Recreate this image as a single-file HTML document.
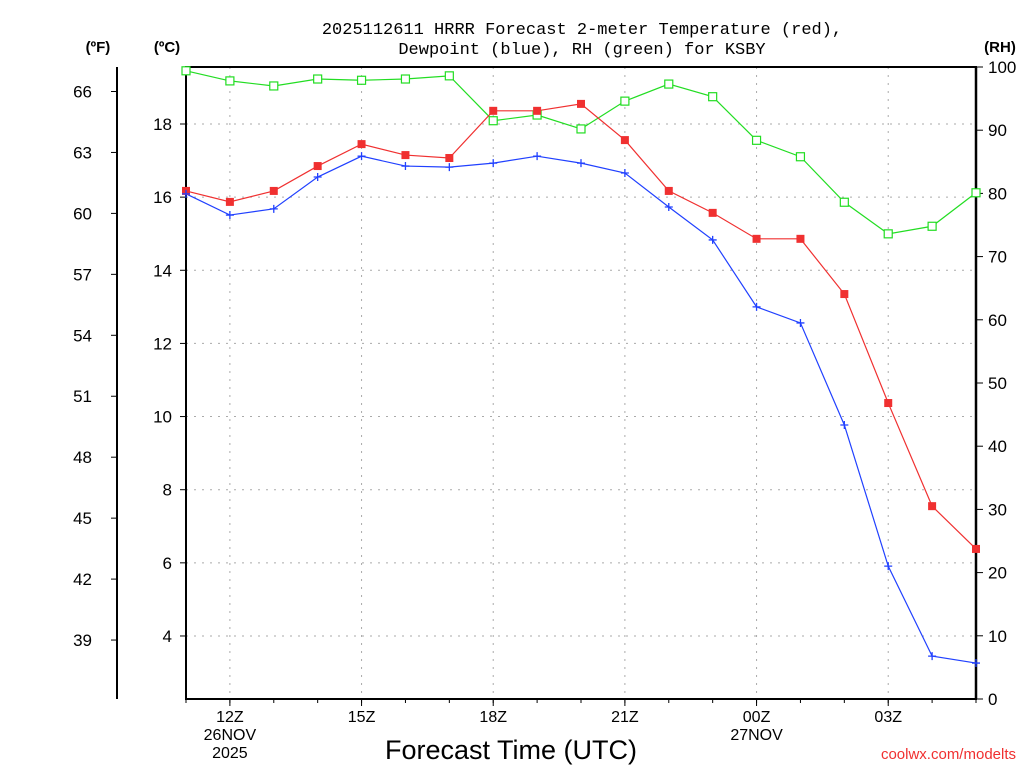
<!DOCTYPE html>
<html><head><meta charset="utf-8"><style>
body{margin:0;background:#fff;}
svg{display:block;font-family:"Liberation Sans",sans-serif;}
</style></head><body>
<svg id="chart" width="1024" height="768">
<g id="grid"></g>
<g id="axes"></g>
<g id="series"></g>
<text x="582" y="34" text-anchor="middle" font-size="17" font-family="Liberation Mono, monospace">2025112611 HRRR Forecast 2-meter Temperature (red),</text>
<text x="582" y="54" text-anchor="middle" font-size="17" font-family="Liberation Mono, monospace">Dewpoint (blue), RH (green) for KSBY</text>
<text x="98" y="52" text-anchor="middle" font-size="15" font-weight="bold">(ºF)</text>
<text x="167" y="52" text-anchor="middle" font-size="15" font-weight="bold">(ºC)</text>
<text x="1000" y="52" text-anchor="middle" font-size="15" font-weight="bold">(RH)</text>
<text x="511" y="759" text-anchor="middle" font-size="27">Forecast Time (UTC)</text>
<text x="1016" y="759" text-anchor="end" font-size="15" fill="#f03030">coolwx.com/modelts</text>
</svg>
<script>
const hours=[11,12,13,14,15,16,17,18,19,20,21,22,23,0,1,2,3,4,5];
const tempC=[16.17,15.87,16.17,16.85,17.45,17.15,17.07,18.36,18.36,18.55,17.56,16.17,15.57,14.86,14.86,13.35,10.37,7.55,6.38];
const dewC=[16.09,15.51,15.68,16.55,17.12,16.85,16.82,16.93,17.12,16.93,16.66,15.73,14.83,13.0,12.56,9.77,5.91,3.45,3.26];
const rh=[99.4,97.8,97.0,98.1,97.9,98.1,98.6,91.5,92.4,90.2,94.6,97.3,95.3,88.4,85.8,78.6,73.6,74.8,80.1];
const cTicks=[4,6,8,10,12,14,16,18];
const fTicks=[39,42,45,48,51,54,57,60,63,66];
const rhTicks=[0,10,20,30,40,50,60,70,80,90,100];
const xLabels=[{i:1,t:["12Z","26NOV","2025"]},{i:4,t:["15Z"]},{i:7,t:["18Z"]},{i:10,t:["21Z"]},{i:13,t:["00Z","27NOV"]},{i:16,t:["03Z"]}];
const L=186,R=976,T=67,B=699;
const xs=i=>L+i*(R-L)/(hours.length-1);
const yC=c=>124+(18-c)*36.57;
const yF=f=>yC((f-32)*5/9);
const yR=r=>B-r*(B-T)/100;
const NS="http://www.w3.org/2000/svg";
function mk(p,tag,a,txt){const e=document.createElementNS(NS,tag);for(const k in a)e.setAttribute(k,a[k]);if(txt!==undefined)e.textContent=txt;p.appendChild(e);return e;}
const grid=document.getElementById('grid'),axes=document.getElementById('axes'),ser=document.getElementById('series');
cTicks.forEach(c=>{const y=yC(c);
 const g=mk(grid,'line',{x1:L,x2:R,y1:y,y2:y,stroke:'#aaa','stroke-dasharray':'2,6'});
 
 mk(axes,'line',{x1:L-6,x2:L,y1:y,y2:y,stroke:'#000'});
 const t=mk(axes,'text',{x:L-14,y:y+6,'text-anchor':'end','font-size':17},c);
 });
xLabels.forEach(o=>{const x=xs(o.i);
 const g=mk(grid,'line',{x1:x,x2:x,y1:T,y2:B,stroke:'#aaa','stroke-dasharray':'2,6'});
 
 mk(axes,'line',{x1:x,x2:x,y1:B,y2:B+7,stroke:'#000'});
 o.t.forEach((s,k)=>{const t=mk(axes,'text',{x:x,y:B+23+k*18,'text-anchor':'middle','font-size':16},s);
 });});
hours.forEach((h,i)=>mk(axes,'line',{x1:xs(i),x2:xs(i),y1:B,y2:B+4,stroke:'#000'}));
fTicks.forEach(f=>{const y=yF(f);
 mk(axes,'line',{x1:117,x2:111,y1:y,y2:y,stroke:'#000'});
 const t=mk(axes,'text',{x:92,y:y+6,'text-anchor':'end','font-size':17},f);
 });
rhTicks.forEach(r=>{const y=yR(r);
 mk(axes,'line',{x1:R,x2:R+7,y1:y,y2:y,stroke:'#000'});
 const t=mk(axes,'text',{x:988,y:y+6,'font-size':17},r);
 });
mk(axes,'rect',{x:L,y:T,width:R-L,height:B-T,fill:'none',stroke:'#000','stroke-width':2});
mk(axes,'line',{x1:R,x2:R,y1:T,y2:B,stroke:'#000','stroke-width':2.5});
mk(axes,'line',{x1:117,x2:117,y1:T,y2:B,stroke:'#000','stroke-width':2});
function line(vals,yf,col,name){const p=vals.map((v,i)=>xs(i)+','+yf(v)).join(' ');
 const e=mk(ser,'polyline',{points:p,fill:'none',stroke:col,'stroke-width':1.2});
 }
line(rh,yR,'#22dd22','rh-line');line(tempC,yC,'#f03030','temperature-line');line(dewC,yC,'#2040ff','dewpoint-line');
rh.forEach((v,i)=>{const e=mk(ser,'rect',{x:xs(i)-4,y:yR(v)-4,width:8,height:8,fill:'#fff',stroke:'#22dd22','stroke-width':1.2});
 });
tempC.forEach((v,i)=>{const e=mk(ser,'rect',{x:xs(i)-4,y:yC(v)-4,width:8,height:8,fill:'#f03030'});
 });
dewC.forEach((v,i)=>{const x=xs(i),y=yC(v);
 const e=mk(ser,'path',{d:`M${x-4},${y}H${x+4}M${x},${y-4}V${y+4}`,stroke:'#2040ff','stroke-width':1.3});
 });
</script>
</body></html>
